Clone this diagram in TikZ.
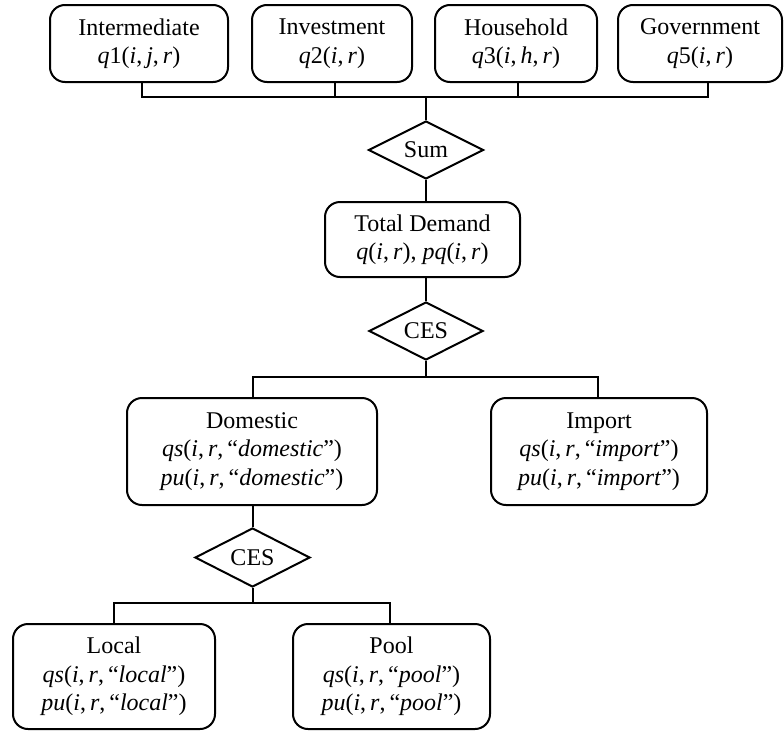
\documentclass[tikz,border=0pt]{standalone}
\usepackage{fontspec}
\setmainfont{Liberation Serif}
\usetikzlibrary{shapes.geometric}
\newcommand{\vi}[1]{\textit{#1}}
\begin{document}
\begin{tikzpicture}[x=1pt,y=-1pt,
  box/.style={draw,rounded corners=15pt,line width=2pt,align=center,inner sep=0pt,
    font=\fontsize{24}{28.5}\selectfont},
  dia/.style={draw,diamond,line width=2pt,inner sep=0pt,aspect=2,
    font=\fontsize{24}{28}\selectfont},
  conn/.style={line width=2pt}]
\useasboundingbox (0,0) rectangle (784,731);
% top row
\node[box,minimum width=178pt,minimum height=77pt] (inter) at (139,43.5)
  {Intermediate\\\vi{q}1(\vi{i},\,\vi{j},\,\vi{r})};
\node[box,minimum width=160pt,minimum height=77pt] (invest) at (332,43.5)
  {Investment\\\vi{q}2(\vi{i},\,\vi{r})};
\node[box,minimum width=162pt,minimum height=77pt] (house) at (516,43.5)
  {Household\\\vi{q}3(\vi{i},\,\vi{h},\,\vi{r})};
\node[box,minimum width=164pt,minimum height=77pt] (gov) at (700,43.5)
  {Government\\\vi{q}5(\vi{i},\,\vi{r})};
\coordinate (b1) at (426,97);
\node[dia,minimum width=115pt,minimum height=58pt] (sum) at (426,150) {Sum};
\node[box,minimum width=195pt,minimum height=75pt] (total) at (422.5,239.5)
  {Total Demand\\\vi{q}(\vi{i},\,\vi{r}), \vi{pq}(\vi{i},\,\vi{r})};
\node[dia,minimum width=114pt,minimum height=58pt] (ces1) at (426,331) {CES};
\coordinate (b2) at (426,377);
\node[box,minimum width=250pt,minimum height=107pt] (dom) at (252,451.5)
  {Domestic\\\vi{qs}(\vi{i},\,\vi{r},\,``\vi{domestic}'')\\\vi{pu}(\vi{i},\,\vi{r},\,``\vi{domestic}'')};
\node[box,minimum width=216pt,minimum height=107pt] (imp) at (599,451.5)
  {Import\\\vi{qs}(\vi{i},\,\vi{r},\,``\vi{import}'')\\\vi{pu}(\vi{i},\,\vi{r},\,``\vi{import}'')};
\node[dia,minimum width=115pt,minimum height=59pt] (ces2) at (252.5,557.5) {CES};
\coordinate (b3) at (252.5,603);
\node[box,minimum width=202pt,minimum height=105pt] (local) at (114,676.5)
  {Local\\\vi{qs}(\vi{i},\,\vi{r},\,``\vi{local}'')\\\vi{pu}(\vi{i},\,\vi{r},\,``\vi{local}'')};
\node[box,minimum width=197pt,minimum height=105pt] (pool) at (391.5,676.5)
  {Pool\\\vi{qs}(\vi{i},\,\vi{r},\,``\vi{pool}'')\\\vi{pu}(\vi{i},\,\vi{r},\,``\vi{pool}'')};
% connectors
\draw[conn] ([xshift=3pt]inter.south) |- ([xshift=8pt]gov.south |- b1) -- ([xshift=8pt]gov.south);
\draw[conn] ([xshift=3pt]invest.south) -- ([xshift=3pt]invest.south |- b1);
\draw[conn] ([xshift=2pt]house.south) -- ([xshift=2pt]house.south |- b1);
\draw[conn] (b1) -- (sum.north);
\draw[conn] (sum.south) -- (sum.south |- total.north);
\draw[conn] (ces1.north |- total.south) -- (ces1.north);
\draw[conn] (ces1.south) -- (b2);
\draw[conn] ([xshift=1pt]dom.north) |- ([xshift=-1pt]imp.north |- b2) -- ([xshift=-1pt]imp.north);
\draw[conn] (ces2.north |- dom.south) -- (ces2.north);
\draw[conn] (ces2.south) -- (b3);
\draw[conn] (local.north) |- ([xshift=-1.5pt]pool.north |- b3) -- ([xshift=-1.5pt]pool.north);
\end{tikzpicture}
\end{document}
